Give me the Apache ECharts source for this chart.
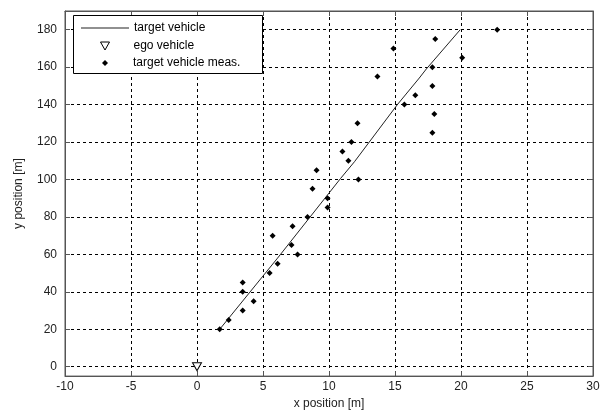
<!DOCTYPE html>
<html>
<head>
<meta charset="utf-8">
<script src="https://cdn.jsdelivr.net/npm/echarts@6/dist/echarts.min.js"></script>
<style>
html,body{margin:0;padding:0;background:#fff;}
#chart{width:609px;height:415px;}
</style>
</head>
<body>
<div id="chart"></div>
<script>
// ---- data ----
const trackX = [1.72, 6.1, 10.87, 11.93, 15.18, 16.84, 17.37, 19.94];
const trackY = [20, 58, 100.5, 109.5, 140, 154.2, 159, 180];

const egoX = [0];
const egoY = [0];

const measX = [1.72, 2.40, 3.46, 4.29, 3.46, 3.46, 5.50, 6.11, 7.62, 7.16, 5.73, 7.24, 8.37, 9.89, 9.89, 8.75, 12.23, 9.06, 11.47, 11.02, 11.70, 17.83, 12.16, 17.98, 15.71, 16.54, 17.83, 13.67, 17.83, 20.09, 14.88, 18.05, 22.74];
const measY = [20, 25, 30, 35, 40, 45, 50, 55, 60, 65, 70, 75, 80, 85, 90, 95, 100, 105, 110, 115, 120, 125, 130, 135, 140, 145, 150, 155, 160, 165, 170, 175, 180];

const xTicks = [-10, -5, 0, 5, 10, 15, 20, 25, 30];
const yTicks = [0, 20, 40, 60, 80, 100, 120, 140, 160, 180];

const seriesNames = ['target vehicle', 'ego vehicle', 'target vehicle meas.'];

// ---- build ----
const zip = (a, b) => a.map((v, i) => [v, b[i]]);
const FONT = 'Liberation Sans, Arial, sans-serif';
const AX = '#555';
const triPath = 'path://M0,0L9,0L4.5,8Z';
const diaPath = 'path://M3,0L6,3L3,6L0,3Z';

const chart = echarts.init(document.getElementById('chart'), null, {renderer: 'canvas'});

const baseText = {fontFamily: FONT, fontSize: 12, color: '#000'};
const baseLegend = {
  orient: 'vertical', padding: 0, itemGap: 0, selectedMode: false, z: 5
};

chart.setOption({
  animation: false,
  backgroundColor: '#fff',
  grid: {left: 65, right: 16, top: 11, bottom: 36, show: true, borderColor: AX, borderWidth: 1, backgroundColor: 'transparent'},
  graphic: [{
    type: 'rect', left: 73, top: 15, z: 3,
    shape: {width: 189, height: 58},
    style: {fill: '#fff', stroke: '#000', lineWidth: 1}
  }],
  legend: [
    Object.assign({}, baseLegend, {left: 81, top: 22, itemWidth: 48, itemHeight: 1,
      itemStyle: {color: '#222', borderWidth: 0},
      textStyle: baseText, data: [{name: seriesNames[0], icon: 'rect'}]}),
    Object.assign({}, baseLegend, {left: 100, top: 40, itemWidth: 9, itemHeight: 8,
      itemStyle: {borderWidth: 1, borderColor: '#000', color: '#fff'},
      textStyle: Object.assign({}, baseText, {padding: [0, 0, 0, 19]}), data: [{name: seriesNames[1], icon: triPath}]}),
    Object.assign({}, baseLegend, {left: 102, top: 57, itemWidth: 6, itemHeight: 6,
      textStyle: Object.assign({}, baseText, {padding: [0, 0, 0, 20]}), data: [{name: seriesNames[2], icon: diaPath}]})
  ],
  xAxis: [{
    type: 'value', position: 'bottom', min: -10, max: 30, interval: 5,
    name: 'x position [m]', nameLocation: 'middle', nameGap: 20,
    nameTextStyle: {fontFamily: FONT, fontSize: 12, color: '#222'},
    axisLine: {show: true, onZero: false, lineStyle: {color: AX, width: 1}},
    axisTick: {show: true, inside: true, length: 5, lineStyle: {color: AX}},
    axisLabel: {fontFamily: FONT, fontSize: 12, color: '#222', margin: 5},
    splitLine: {show: true, lineStyle: {color: '#000', type: [3, 3], width: 1}}
  }, {
    type: 'value', position: 'top', min: -10, max: 30, interval: 5,
    axisLine: {show: true, onZero: false, lineStyle: {color: AX, width: 1}},
    axisTick: {show: true, inside: true, length: 5, lineStyle: {color: AX}},
    axisLabel: {show: false}, splitLine: {show: false}
  }],
  yAxis: [{
    type: 'value', position: 'left', min: -5, max: 190,
    name: 'y position [m]', nameLocation: 'middle', nameGap: 40, nameRotate: 90,
    nameTextStyle: {fontFamily: FONT, fontSize: 12, color: '#222'},
    axisLine: {show: true, onZero: false, lineStyle: {color: AX, width: 1}},
    axisTick: {show: true, inside: true, length: 5, lineStyle: {color: AX}, customValues: yTicks},
    axisLabel: {fontFamily: FONT, fontSize: 12, color: '#222', margin: 8, customValues: yTicks},
    splitLine: {show: true, lineStyle: {color: '#000', type: [3, 3], width: 1}}
  }, {
    type: 'value', position: 'right', min: -5, max: 190,
    axisLine: {show: true, onZero: false, lineStyle: {color: AX, width: 1}},
    axisTick: {show: true, inside: true, length: 5, lineStyle: {color: AX}, customValues: yTicks},
    axisLabel: {show: false, customValues: yTicks}, splitLine: {show: false}
  }],
  series: [{
    name: seriesNames[0], type: 'line', data: zip(trackX, trackY),
    symbol: 'none', lineStyle: {color: '#222', width: 1}, itemStyle: {color: '#222'}, z: 2
  }, {
    name: seriesNames[1], type: 'scatter', data: zip(egoX, egoY),
    symbol: triPath, symbolSize: [9, 8],
    itemStyle: {color: '#fff', borderColor: '#000', borderWidth: 1, opacity: 1}, z: 3
  }, {
    name: seriesNames[2], type: 'scatter', data: zip(measX, measY),
    symbol: diaPath, symbolSize: [6, 6],
    itemStyle: {color: '#000', opacity: 1}, z: 3
  }]
});
</script>
</body>
</html>
